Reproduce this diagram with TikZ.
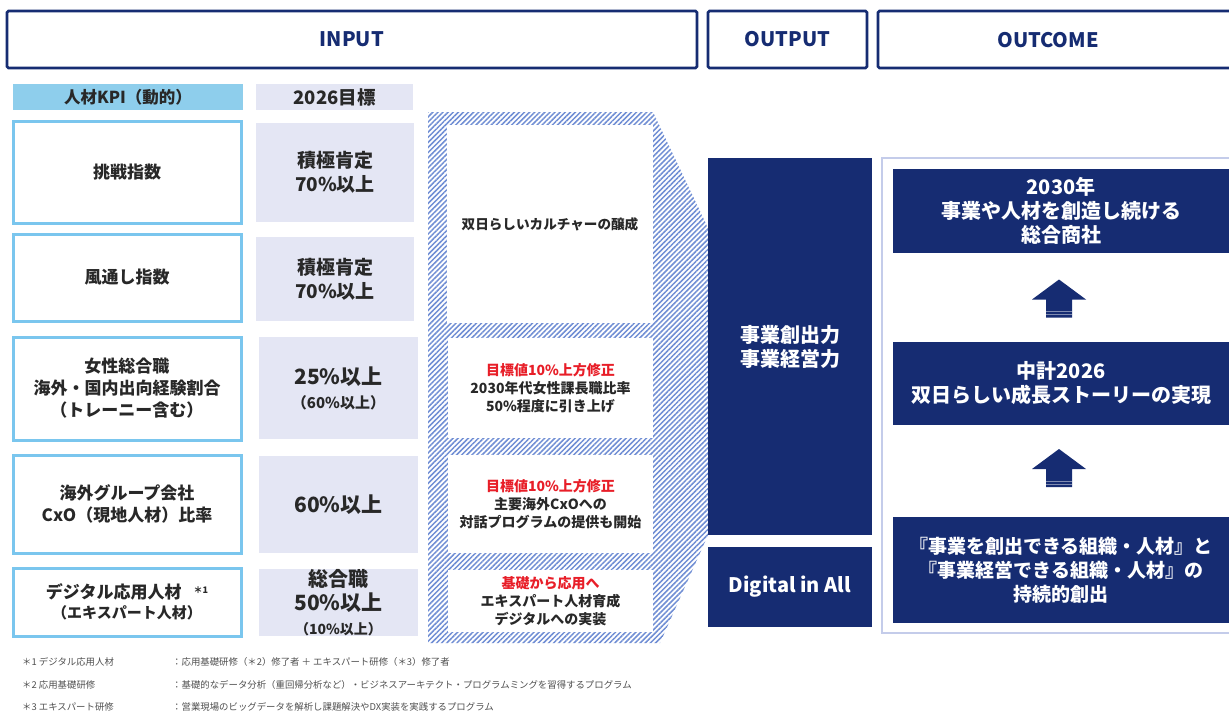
\documentclass[tikz,border=0pt]{standalone}
\usepackage{fontspec}
\setmainfont{Noto Sans CJK JP}
\usetikzlibrary{patterns.meta,calc}
\definecolor{navy}{RGB}{22,44,114}
\definecolor{skyb}{RGB}{122,198,238}
\definecolor{skyfill}{RGB}{142,206,236}
\definecolor{lav}{RGB}{228,230,244}
\definecolor{hatchc}{RGB}{112,142,212}
\definecolor{redt}{RGB}{232,30,40}
\definecolor{panelb}{RGB}{196,204,234}
\definecolor{notec}{RGB}{80,80,80}
\definecolor{ink}{RGB}{40,40,40}
\newcommand\bx[7]{\node[#6,anchor=north west,inner sep=0pt,outer sep=0pt,minimum width={#4-#2},minimum height={#5-#3}] (#1) at (#2,#3) {#7};}
\newcommand\fs[2]{\fontsize{#1}{#2}\selectfont}
\begin{document}
\begin{tikzpicture}[x=1pt,y=-1pt,
  hdr/.style={draw=navy,line width=2.8pt,rounded corners=1.5pt,text=navy,font=\fs{20}{24}\bfseries},
  kpi/.style={draw=skyb,line width=3pt,fill=white,align=center,text=ink,font=\fs{17}{22}\bfseries},
  tgt/.style={fill=lav,align=center,text=ink,font=\fs{19}{24}\bfseries},
  wbox/.style={fill=white,align=center,text=ink,font=\fs{14}{18}\bfseries},
  nbox/.style={fill=navy,text=white,align=center,font=\fs{20}{24}\bfseries},
  note/.style={anchor=west,inner sep=0pt,text=notec,font=\fs{9.4}{11}},
  uparrow/.style={fill=navy}]
\fill[white] (0,0) rectangle (1229,713);
\clip (0,0) rectangle (1229,713);
% headers
\bx{hin}{7}{11}{697}{68}{hdr}{INPUT}
\bx{hout}{708}{11}{867}{68}{hdr}{OUTPUT}
\bx{hoc}{878}{11}{1245}{68}{hdr}{}
\node[text=navy,font=\fs{20}{24}\bfseries] (hoct) at (1048,40) {OUTCOME};
% KPI header row
\bx{kh}{13}{84}{243}{110}{fill=skyfill,text=ink,font=\fs{16.5}{18}\bfseries}{人材KPI（動的）}
\bx{th}{256}{84}{413}{110}{fill=lav,text=ink,font=\fs{18.5}{20}\bfseries}{2026目標}
% KPI boxes
\bx{k1}{13}{121}{241}{223}{kpi}{挑戦指数}
\bx{k2}{13}{234}{241}{321}{kpi}{風通し指数}
\bx{k3}{13}{337}{241}{440}{kpi}{女性総合職\\海外・国内出向経験割合\\（トレーニー含む）}
\bx{k4}{13}{455}{241}{553}{kpi}{海外グループ会社\\CxO（現地人材）比率}
\bx{k5}{13}{568}{241}{636}{kpi}{デジタル応用人材\hspace{12pt}\raisebox{5pt}{\fs{9}{9}＊1}\\[-2pt]{\fs{15}{18}（エキスパート人材）}}
% targets
\bx{t1}{256}{123}{414}{222}{tgt}{積極肯定\\70\%以上}
\bx{t2}{256}{237}{414}{321}{tgt}{積極肯定\\70\%以上}
\bx{t3}{259}{337}{418}{439}{tgt}{{\fs{21}{24}25\%以上}\\{\fs{15}{20}（60\%以上）}}
\bx{t4}{259}{456}{418}{553}{tgt}{{\fs{21}{24}60\%以上}}
\bx{t5}{259}{569}{418}{636}{tgt}{{\fs{20}{23}総合職}\\{\fs{21}{23}50\%以上}\\{\fs{14}{18}（10\%以上）}}
% hatched panel
\path[pattern={Lines[angle=45,distance=3.6pt,line width=1.5pt]},pattern color=hatchc]
  (428,112) -- (653,112) -- (708,228) -- (708,535) -- (660,643) -- (428,643) -- cycle;
\bx{w1}{447}{125}{653}{323}{wbox}{{\fs{13.6}{16}双日らしいカルチャーの醸成}}
\bx{w2}{448}{338}{653}{438}{wbox}{\textcolor{redt}{目標値10\%上方修正}\\2030年代女性課長職比率\\50\%程度に引き上げ}
\bx{w3}{448}{455}{653}{553}{wbox}{\textcolor{redt}{目標値10\%上方修正}\\主要海外CxOへの\\対話プログラムの提供も開始}
\bx{w4}{448}{570}{653}{632}{wbox}{\textcolor{redt}{基礎から応用へ}\\エキスパート人材育成\\デジタルへの実装}
% output
\bx{o1}{708}{158}{872}{535}{nbox}{事業創出力\\事業経営力}
\bx{o2}{708}{547}{872}{627}{nbox}{Digital in All}
% outcome
\bx{pan}{882}{158}{1245}{633}{draw=panelb,line width=2.5pt}{}
\bx{oA}{893}{169}{1229}{253}{nbox}{2030年\\事業や人材を創造し続ける\\総合商社}
\bx{oB}{893}{342}{1229}{425}{nbox}{中計2026\\双日らしい成長ストーリーの実現}
\bx{oC}{893}{517}{1229}{623}{nbox,font=\fs{19}{24}\bfseries}{『事業を創出できる組織・人材』と\\『事業経営できる組織・人材』の\\持続的創出}
\coordinate (ar1) at ($(oA.south)!0.5!(oB.north)+(-2,1)$);
\coordinate (ar2) at ($(oB.south)!0.5!(oC.north)+(-2,-3)$);
\foreach \a in {ar1,ar2}{
  \fill[uparrow,shift={(\a)}] (0,-19) -- (27,1) -- (13,1) -- (13,19) -- (-13,19) -- (-13,1) -- (-27,1) -- cycle;
  \draw[white,opacity=0.45,line width=0.8pt,shift={(\a)}] (-13,13) -- (13,13) (-13,16) -- (13,16);
}
% footnotes
\node[note] (n1a) at (22,662) {＊1 デジタル応用人材};
\node[note] (n1b) at (172,662) {：応用基礎研修（＊2）修了者 ＋ エキスパート研修（＊3）修了者};
\node[note] (n2a) at (22,685) {＊2 応用基礎研修};
\node[note] (n2b) at (172,685) {：基礎的なデータ分析（重回帰分析など）・ビジネスアーキテクト・プログラムミングを習得するプログラム};
\node[note] (n3a) at (22,707) {＊3 エキスパート研修};
\node[note] (n3b) at (172,707) {：営業現場のビッグデータを解析し課題解決やDX実装を実践するプログラム};
\end{tikzpicture}
\end{document}
